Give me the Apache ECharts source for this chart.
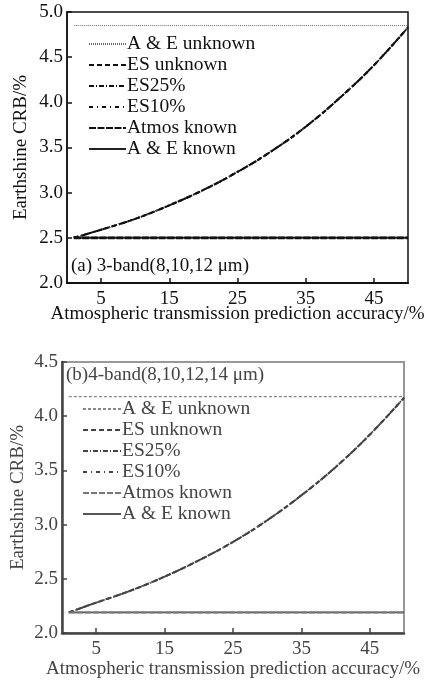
<!DOCTYPE html>
<html><head><meta charset="utf-8">
<script src="https://cdn.jsdelivr.net/npm/echarts@6/dist/echarts.min.js"></script>
<style>html,body{margin:0;padding:0;background:#fff}#c{width:429px;height:680px}</style>
</head><body><div id="c"></div>
<script>
// x values (atmospheric transmission prediction accuracy, %)
const accuracy = [1, 5, 10, 15, 20, 25, 30, 35, 40, 45, 50];
const xTicks = [5, 15, 25, 35, 45];
const legendNames = ['A & E unknown', 'ES unknown', 'ES25%', 'ES10%', 'Atmos known', 'A & E known'];

// (a) 3-band
const a_aeUnknown = [4.85, 4.85, 4.85, 4.85, 4.85, 4.85, 4.85, 4.85, 4.85, 4.85, 4.85];
const a_esUnknown = [2.50, 2.59, 2.71, 2.86, 3.03, 3.23, 3.46, 3.73, 4.05, 4.41, 4.83];
const a_es25 = [2.50, 2.59, 2.71, 2.86, 3.03, 3.23, 3.46, 3.73, 4.05, 4.41, 4.83];
const a_es10 = [2.50, 2.59, 2.71, 2.86, 3.03, 3.23, 3.46, 3.73, 4.05, 4.41, 4.83];
const a_atmosKnown = [2.50, 2.50, 2.50, 2.50, 2.50, 2.50, 2.50, 2.50, 2.50, 2.50, 2.50];
const a_aeKnown = [2.50, 2.50, 2.50, 2.50, 2.50, 2.50, 2.50, 2.50, 2.50, 2.50, 2.50];

// (b) 4-band
const b_aeUnknown = [4.18, 4.18, 4.18, 4.18, 4.18, 4.18, 4.18, 4.18, 4.18, 4.18, 4.18];
const b_esUnknown = [2.19, 2.28, 2.39, 2.52, 2.67, 2.84, 3.04, 3.27, 3.53, 3.83, 4.17];
const b_es25 = [2.19, 2.28, 2.39, 2.52, 2.67, 2.84, 3.04, 3.27, 3.53, 3.83, 4.17];
const b_es10 = [2.19, 2.28, 2.39, 2.52, 2.67, 2.84, 3.04, 3.27, 3.53, 3.83, 4.17];
const b_atmosKnown = [2.19, 2.19, 2.19, 2.19, 2.19, 2.19, 2.19, 2.19, 2.19, 2.19, 2.19];
const b_aeKnown = [2.19, 2.19, 2.19, 2.19, 2.19, 2.19, 2.19, 2.19, 2.19, 2.19, 2.19];

const FONT = '"Liberation Serif", "Times New Roman", serif';
const pair = arr => accuracy.map((x, i) => [x, arr[i]]);

const styleA = [
  { color: '#666', width: 1, type: [1, 1] },
  { color: '#111', width: 2, type: [5, 3] },
  { color: '#111', width: 2, type: [5, 2, 1, 2] },
  { color: '#111', width: 2, type: [4, 4, 1, 4] },
  { color: '#111', width: 2.6, type: [7, 1.5] },
  { color: '#222', width: 2, type: 'solid' }
];
const styleB = [
  { color: '#888', width: 1.2, type: [3, 2] },
  { color: '#444', width: 2, type: [5, 3] },
  { color: '#444', width: 1.8, type: [5, 2, 1, 2] },
  { color: '#444', width: 1.8, type: [4, 4, 1, 4] },
  { color: '#777', width: 2, type: [6, 2] },
  { color: '#555', width: 1.6, type: 'solid' }
];
const dataA = [a_aeUnknown, a_esUnknown, a_es25, a_es10, a_atmosKnown, a_aeKnown];
const dataB = [b_aeUnknown, b_esUnknown, b_es25, b_es10, b_atmosKnown, b_aeKnown];

const series = [];
legendNames.forEach((n, i) => series.push({
  name: n, type: 'line', xAxisIndex: 0, yAxisIndex: 0, smooth: 0.4, symbol: 'none',
  lineStyle: styleA[i], itemStyle: { color: styleA[i].color }, data: pair(dataA[i]),
  z: i === 4 ? 4 : 3, animation: false
}));
legendNames.forEach((n, i) => series.push({
  name: 'b:' + n, type: 'line', xAxisIndex: 1, yAxisIndex: 1, smooth: 0.4, symbol: 'none',
  lineStyle: styleB[i], itemStyle: { color: styleB[i].color }, data: pair(dataB[i]),
  z: i === 4 ? 4 : 3, animation: false
}));

function xAxis(gridIndex, color, nameGap, lw) {
  return {
    type: 'value', gridIndex, min: 0, max: 50,
    name: 'Atmospheric transmission prediction accuracy/%', nameLocation: 'middle', nameGap,
    nameMoveOverlap: false,
    nameTextStyle: { fontFamily: FONT, fontSize: 19, color },
    axisLine: { lineStyle: { color, width: lw } },
    axisTick: { inside: true, length: 5, customValues: xTicks, lineStyle: { color, width: 1.5 } },
    axisLabel: { customValues: xTicks, fontFamily: FONT, fontSize: 19, color, margin: 7 },
    splitLine: { show: false }
  };
}
function yAxis(gridIndex, max, color, nameGap, lw) {
  return {
    type: 'value', gridIndex, min: 2, max, interval: 0.5,
    name: 'Earthshine CRB/%', nameLocation: 'middle', nameGap,
    nameMoveOverlap: false,
    nameTextStyle: { fontFamily: FONT, fontSize: 19, color },
    axisLine: { show: true, lineStyle: { color, width: lw } },
    axisTick: { show: true, inside: true, length: 5, lineStyle: { color, width: 1.5 } },
    axisLabel: { fontFamily: FONT, fontSize: 19, color, margin: 4, formatter: v => v.toFixed(1) },
    splitLine: { show: false }
  };
}

const chart = echarts.init(document.getElementById('c'), null, { renderer: 'canvas' });
chart.setOption({
  backgroundColor: '#fff',
  animation: false,
  grid: [
    { left: 67, top: 12, width: 341, height: 271, show: true, borderColor: '#111', borderWidth: 1.5, backgroundColor: 'transparent' },
    { left: 62, top: 362, width: 342, height: 271, show: true, borderColor: '#999', borderWidth: 2, backgroundColor: 'transparent' }
  ],
  xAxis: [xAxis(0, '#111', 22, 2), xAxis(1, '#444', 27, 2.5)],
  yAxis: [yAxis(0, 5, '#111', 36, 1.5), yAxis(1, 4.5, '#444', 34, 2.5)],
  title: [
    { text: '(a) 3-band(8,10,12 μm)', left: 71, top: 257, padding: 0,
      textStyle: { fontFamily: FONT, fontSize: 19, fontWeight: 'normal', color: '#111' } },
    { text: '(b)4-band(8,10,12,14 μm)', left: 66, top: 366, padding: 0,
      textStyle: { fontFamily: FONT, fontSize: 19, fontWeight: 'normal', color: '#444' } }
  ],
  legend: [
    { data: legendNames, orient: 'vertical', left: 88, top: 34, padding: 0,
      itemWidth: 37, itemHeight: 16, itemGap: 1,
      itemStyle: { opacity: 0 },
      textStyle: { fontFamily: FONT, fontSize: 19.5, color: '#111', lineHeight: 18, padding: [0, 0, 0, -4] } },
    { data: legendNames.map(n => 'b:' + n), orient: 'vertical', left: 82, top: 399, padding: 0,
      itemWidth: 38, itemHeight: 16, itemGap: 1,
      itemStyle: { opacity: 0 },
      formatter: n => n.slice(2),
      textStyle: { fontFamily: FONT, fontSize: 19.5, color: '#444', lineHeight: 18, padding: [0, 0, 0, -4] } }
  ],
  series
});
</script></body></html>
